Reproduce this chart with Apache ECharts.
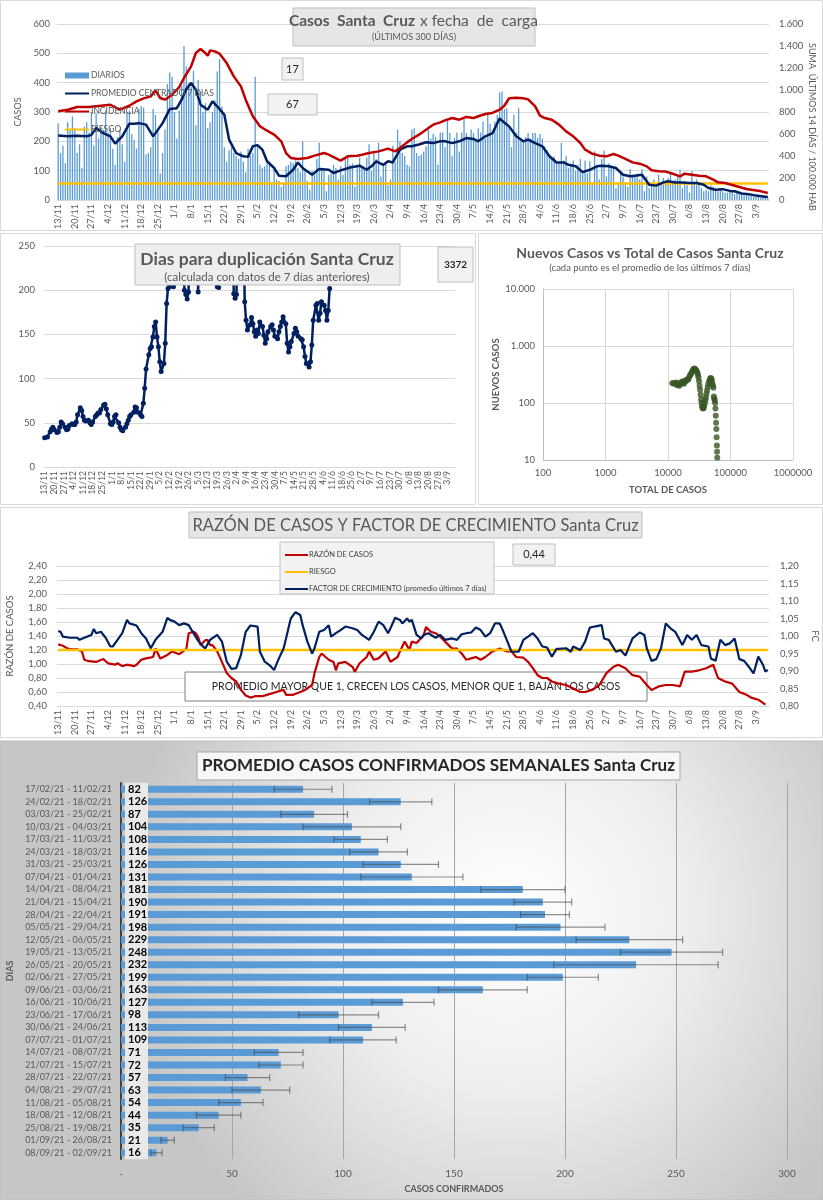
<!DOCTYPE html>
<html><head><meta charset="utf-8">
<script src="https://cdn.jsdelivr.net/npm/echarts/dist/echarts.min.js"></script>
<style>html,body{margin:0;padding:0;background:#fff}#c{width:823px;height:1200px}</style>
</head><body><div id="c"></div>
<script>
// ---------- DATA ----------
// x-axis categories: 300 days starting 13/11/2020
const START_DATE = [2020, 10, 13];
const N_DAYS = 300;
const DATES = [];
for (let i = 0; i < N_DAYS; i++) { const d = new Date(START_DATE[0], START_DATE[1], START_DATE[2] + i); DATES.push(d.getDate() + '/' + (d.getMonth() + 1)); }

const DIARIOS = [
262,160,185,125,265,240,285, 245,160,190,110,250,265,230, 300,185,295,210,250,240,305, 230,245,175,120,215,240,190,
130,300,305,225,205,175,310, 320,315,155,160,180,310,290, 240,90,160,240,395,435,420, 300,210,305,390,525,455,400,
385,440,255,410,370,300,330, 245,265,300,340,438,480,320, 180,130,170,180,160,150,140, 165,130,95,175,150,160,420,
185,120,110,115,125,120,60, 105,70,65,45,60,115,120, 130,125,135,110,95,200,105, 65,35,100,85,140,195,110,
100,30,85,90,120,110,70, 115,85,140,150,120,125,45, 120,145,110,110,145,190,100, 165,140,195,80,120,125,50,
70,185,130,240,200,160,150, 120,115,240,245,160,150,155, 165,183,240,210,225,215,120, 230,230,180,270,228,150,212,
230,165,230,275,228,210,240, 228,200,245,230,268,210,300, 260,230,268,290,367,370,310, 313,250,180,291,230,313,210,
200,215,228,210,228,228,212, 225,210,183,170,155,140,148, 130,125,194,135,150,110,120, 135,100,120,140,95,135,90,
132,60,166,120,70,140,169, 80,125,110,115,40,60,95, 80,60,45,106,80,85,90, 70,105,30,80,40,55,70,
45,86,60,75,55,75,90, 60,70,85,103,40,65,50, 25,98,60,70,60,40,30, 35,30,50,45,35,30,40,
30,25,25,35,30,20,25, 20,20,15,20,15,15,12, 12,10,8,12,10,8];

// [dayIndex, value]
const PROMEDIO = [[0,220],[4,217],[8,219],[12,217],[14,222],[16,245],[19,228],[22,217],[24,192],[27,217],[30,260],[32,260],[34,262],[37,257],[40,217],[41,228],[44,262],[47,310],[50,313],[52,342],[54,378],[56,399],[58,376],[60,325],[63,308],[65,336],[67,319],[70,291],[72,206],[75,160],[78,149],[80,147],[82,183],[84,187],[86,172],[88,132],[91,109],[93,83],[96,81],[99,103],[101,128],[103,109],[107,86],[110,106],[114,103],[116,92],[119,101],[123,111],[127,117],[130,103],[132,115],[134,132],[137,120],[139,132],[141,128],[144,172],[147,183],[149,183],[152,189],[155,197],[158,194],[161,200],[163,200],[166,194],[169,200],[172,211],[175,208],[177,200],[180,217],[183,228],[186,278],[187,270],[190,251],[193,217],[196,200],[198,206],[201,194],[204,183],[207,149],[210,128],[213,128],[215,120],[218,115],[221,95],[224,103],[227,115],[229,117],[232,115],[235,109],[238,86],[241,81],[243,83],[246,86],[249,52],[252,49],[255,60],[257,64],[260,60],[263,60],[266,58],[269,58],[272,52],[274,41],[277,35],[280,37],[283,31],[285,30],[288,22],[291,20],[294,15],[297,12],[299,10]];

const INCIDENCIA = [[0,806],[4,821],[8,845],[13,845],[18,857],[22,866],[26,821],[30,857],[33,897],[36,924],[39,942],[41,997],[43,927],[45,912],[48,957],[51,1027],[53,1109],[56,1215],[58,1336],[60,1372],[62,1336],[63,1312],[64,1360],[66,1351],[68,1330],[71,1245],[74,1124],[77,1033],[79,912],[82,761],[85,670],[88,630],[91,594],[94,533],[96,427],[98,382],[101,373],[105,382],[108,403],[112,427],[114,412],[119,358],[122,397],[126,403],[128,412],[131,427],[135,442],[139,467],[142,442],[144,473],[147,524],[149,555],[152,594],[155,639],[158,685],[161,706],[163,724],[166,745],[169,730],[172,755],[175,745],[177,761],[180,782],[183,791],[186,821],[188,857],[190,925],[193,930],[196,925],[198,915],[201,851],[203,767],[205,745],[208,730],[211,685],[214,624],[217,579],[220,518],[222,458],[225,421],[228,403],[231,397],[234,418],[236,403],[239,373],[242,342],[245,330],[248,306],[250,270],[253,261],[256,258],[259,239],[262,215],[264,239],[267,230],[270,221],[273,215],[276,185],[278,161],[281,155],[284,136],[287,118],[290,100],[292,94],[295,85],[299,64]];

const RIESGO_INCIDENCIA = 150;

const DUPLICACION = [[0,33],[2,34],[4,40],[5,43],[6,45],[7,42],[9,39],[10,40],[11,45],[12,51],[13,49],[15,45],[16,42],[17,43],[18,47],[20,49],[21,48],[22,48],[23,51],[24,59],[26,67],[27,64],[28,57],[29,53],[30,52],[32,53],[33,50],[34,48],[35,51],[37,57],[38,59],[39,61],[40,61],[41,65],[43,70],[44,71],[45,66],[46,59],[48,49],[49,48],[50,51],[51,57],[52,59],[54,50],[55,45],[56,42],[57,41],[59,45],[60,49],[61,53],[62,57],[63,59],[65,62],[66,68],[67,67],[68,62],[70,59],[71,57],[72,72],[73,89],[74,111],[76,127],[77,134],[78,136],[79,147],[80,159],[81,164],[82,147],[83,136],[84,119],[85,108],[87,117],[88,140],[89,185],[90,202],[91,204],[93,205],[94,204],[95,300],[101,300],[102,200],[103,195],[104,190],[105,198],[106,300],[111,300],[112,198],[113,300],[125,300],[126,204],[127,203],[128,300],[137,300],[138,196],[139,191],[140,195],[141,300],[145,300],[146,187],[147,166],[148,155],[150,161],[151,169],[152,162],[153,153],[154,148],[155,155],[156,151],[157,164],[159,159],[160,149],[161,140],[162,145],[163,153],[165,159],[166,161],[167,155],[168,148],[170,145],[171,153],[172,159],[173,164],[174,170],[176,162],[177,140],[178,130],[179,136],[180,142],[182,151],[183,157],[184,153],[185,148],[187,145],[188,144],[189,136],[190,125],[191,117],[193,113],[194,119],[195,138],[196,166],[198,183],[199,185],[200,166],[201,174],[202,187],[204,183],[205,177],[206,166],[207,177],[208,202]];

// [total de casos, nuevos casos (promedio 7 días)]
const NUEVOS_VS_TOTAL = [[11700,222],[12300,225],[12900,215],[13500,228],[14000,205],[14600,220],[15200,200],[15700,215],[16300,232],[16900,238],[17400,225],[18000,218],[18600,245],[19300,240],[19900,255],[20500,262],[21200,258],[21900,285],[22600,310],[23300,318],[24000,345],[24800,372],[25600,395],[26400,405],[27200,390],[28000,378],[28800,360],[29500,340],[30200,310],[30800,280],[31400,240],[32000,200],[32600,170],[33200,140],[33800,115],[34400,100],[35000,88],[35700,82],[36400,80],[37200,82],[38000,90],[38800,100],[39600,112],[40400,125],[41300,145],[42200,165],[43200,190],[44300,215],[45500,240],[46800,262],[48000,275],[49200,268],[50300,250],[51300,220],[52300,200],[53200,185],[54100,130],[55000,120],[55900,112],[56700,100],[57400,80],[58100,60],[58800,45],[59400,35],[60000,25],[60500,18],[61000,14],[61400,11]];

const RAZON = [[0,1.28],[2,1.26],[4,1.22],[6,1.21],[8,1.21],[10,1.18],[11,1.06],[13,1.04],[16,1.03],[19,1.07],[21,1.01],[24,0.99],[25,1.01],[27,0.97],[29,0.99],[32,0.97],[33,0.99],[35,1.06],[37,1.08],[40,1.10],[41,1.22],[43,1.08],[46,1.13],[48,1.18],[51,1.14],[53,1.19],[54,1.22],[55,1.44],[57,1.46],[58,1.44],[59,1.38],[60,1.27],[62,1.34],[63,1.34],[64,1.27],[65,1.27],[67,1.18],[69,1.03],[71,0.87],[73,0.80],[75,0.75],[77,0.63],[79,0.55],[81,0.52],[83,0.54],[86,0.54],[89,0.57],[92,0.60],[95,0.63],[96,0.56],[99,0.56],[102,0.60],[104,0.63],[107,0.70],[108,0.87],[110,1.10],[111,1.15],[114,1.06],[116,1.03],[117,0.91],[118,1.01],[121,1.03],[124,0.96],[125,0.89],[127,1.01],[130,1.10],[131,1.18],[133,1.06],[135,1.08],[138,1.18],[140,1.03],[143,1.10],[144,1.18],[146,1.32],[148,1.20],[149,1.32],[151,1.30],[154,1.41],[155,1.53],[157,1.46],[159,1.44],[161,1.39],[163,1.32],[166,1.22],[168,1.22],[170,1.15],[172,1.06],[174,1.08],[176,1.10],[178,1.06],[180,1.10],[183,1.18],[186,1.22],[189,1.18],[191,1.18],[193,1.10],[196,1.09],[198,1.03],[200,0.94],[202,0.84],[204,0.80],[206,0.80],[208,0.75],[211,0.72],[214,0.70],[217,0.65],[220,0.60],[222,0.60],[225,0.63],[228,0.70],[231,0.87],[234,0.96],[236,0.99],[239,0.94],[242,0.84],[245,0.82],[248,0.70],[250,0.63],[253,0.68],[256,0.70],[259,0.70],[262,0.68],[264,0.89],[267,0.89],[270,0.91],[273,0.94],[276,0.99],[278,0.80],[281,0.75],[284,0.72],[287,0.60],[290,0.56],[292,0.52],[295,0.49],[298,0.42]];

const FACTOR_CRECIMIENTO = [[0,1.014],[1,1.012],[2,0.998],[5,0.995],[8,0.995],[9,0.989],[11,0.995],[14,1.003],[15,1.020],[16,1.008],[18,1.012],[20,0.995],[22,0.970],[23,0.970],[25,0.989],[27,1.008],[29,1.046],[30,1.036],[33,1.030],[35,1.008],[37,0.993],[39,0.965],[41,0.989],[44,1.012],[46,1.052],[47,1.046],[49,1.041],[51,1.031],[53,1.036],[55,1.031],[57,1.008],[59,0.986],[61,0.970],[62,0.965],[64,0.989],[67,1.003],[69,0.984],[71,0.927],[73,0.906],[75,0.908],[77,0.946],[79,1.012],[81,1.030],[84,1.027],[85,0.955],[87,0.927],[89,0.917],[91,0.903],[93,0.936],[95,0.965],[96,0.993],[98,1.050],[100,1.068],[102,1.060],[103,1.031],[105,0.984],[107,0.950],[108,0.965],[110,1.012],[112,1.017],[114,1.031],[115,0.998],[117,1.008],[119,1.017],[121,1.027],[124,1.022],[126,1.017],[128,1.003],[131,0.989],[133,1.012],[135,1.041],[137,1.031],[139,1.008],[140,1.022],[142,1.052],[144,1.046],[145,1.036],[147,1.050],[148,1.041],[149,1.046],[151,1.003],[153,0.993],[154,1.003],[156,1.008],[159,0.995],[161,1.003],[163,0.989],[166,0.993],[168,0.989],[170,1.005],[172,1.008],[174,1.010],[176,1.024],[178,1.017],[180,0.998],[182,1.008],[184,1.036],[186,1.036],[187,1.022],[189,0.989],[191,0.955],[194,0.955],[196,0.989],[198,0.998],[200,1.008],[202,0.993],[204,0.970],[206,0.967],[208,0.941],[210,0.963],[211,0.963],[214,0.965],[216,0.955],[217,0.970],[220,0.960],[222,0.984],[224,1.024],[226,1.027],[229,1.031],[230,0.993],[232,0.989],[235,0.955],[237,0.960],[239,0.944],[242,0.993],[245,1.010],[247,1.003],[248,0.965],[250,0.929],[252,0.934],[254,0.965],[256,1.036],[258,1.022],[260,1.012],[263,0.974],[265,1.003],[267,0.989],[269,1.003],[271,0.974],[274,0.970],[275,0.936],[277,0.929],[279,0.989],[281,0.974],[283,0.979],[285,0.993],[287,0.934],[289,0.929],[291,0.912],[293,0.893],[295,0.941],[297,0.917],[298,0.898],[299,0.903]];

const RIESGO_RAZON = 1.2;

const SEMANAS = ["17/02/21 - 11/02/21","24/02/21 - 18/02/21","03/03/21 - 25/02/21","10/03/21 - 04/03/21","17/03/21 - 11/03/21","24/03/21 - 18/03/21","31/03/21 - 25/03/21","07/04/21 - 01/04/21","14/04/21 - 08/04/21","21/04/21 - 15/04/21","28/04/21 - 22/04/21","05/05/21 - 29/04/21","12/05/21 - 06/05/21","19/05/21 - 13/05/21","26/05/21 - 20/05/21","02/06/21 - 27/05/21","09/06/21 - 03/06/21","16/06/21 - 10/06/21","23/06/21 - 17/06/21","30/06/21 - 24/06/21","07/07/21 - 01/07/21","14/07/21 - 08/07/21","21/07/21 - 15/07/21","28/07/21 - 22/07/21","04/08/21 - 29/07/21","11/08/21 - 05/08/21","18/08/21 - 12/08/21","25/08/21 - 19/08/21","01/09/21 - 26/08/21","08/09/21 - 02/09/21"];
const PROMEDIO_SEMANAL = [82,126,87,104,108,116,126,131,181,190,191,198,229,248,232,199,163,127,98,113,109,71,72,57,63,54,44,35,21,16];
const ERROR_SEMANAL = [13,14,15,22,12,13,17,23,19,13,11,20,24,23,37,16,20,14,18,15,15,11,10,10,13,10,10,7,3,2.5];

// ---------- CHART ----------
const FF = 'Lato, "Open Sans", sans-serif';
const GRAY = '#595959';
const GRID = '#d9d9d9';
const thousands = v => String(Math.round(v)).replace(/\B(?=(\d{3})+(?!\d))/g, '.');
const comma2 = v => Number(v).toFixed(2).replace('.', ',');
const lbl = (o) => Object.assign({color: GRAY, fontFamily: FF}, o);

const G = [];
function rect(x, y, w, h, fill, stroke, z) { G.push({type: 'rect', shape: {x, y, width: w, height: h}, style: {fill, stroke, lineWidth: 1}, z, silent: true}); }
function txt(x, y, t, font, color, align, z, rot) {
  G.push({type: 'text', x, y, rotation: rot || 0, z: z || 101, silent: true,
    style: {text: t, font: font, fill: color, align: align || 'center', verticalAlign: 'middle', textAlign: align || 'center', textVerticalAlign: 'middle'}});
}
// panel frames
rect(0.5, 0.5, 822, 230, 'none', '#d9d9d9', 0);
rect(0.5, 233.5, 475, 271, 'none', '#d9d9d9', 0);
rect(478.5, 233.5, 344, 271, 'none', '#d9d9d9', 0);
rect(0.5, 507.5, 822, 230, 'none', '#d9d9d9', 0);
G.push({type: 'rect', shape: {x: 0, y: 741, width: 823, height: 459}, z: -10, silent: true,
  style: {stroke: '#bfbfbf', fill: new echarts.graphic.RadialGradient(0.62, 0.38, 0.85, [{offset: 0, color: '#ffffff'}, {offset: 0.45, color: '#eeeeee'}, {offset: 1, color: '#c6c6c6'}])}});
// panel 1 boxes
rect(293, 8, 242, 38, '#e7e6e6', '#bfbfbf', 100);
txt(415, 21, 'Casos  Santa  Cruz', 'bold 15.5px ' + FF, GRAY, 'right');
txt(420, 21, 'x fecha  de  carga', '15.5px ' + FF, GRAY, 'left');
txt(414, 37, '(ÚLTIMOS 300 DÍAS)', '9px ' + FF, GRAY);
rect(282, 58, 21, 22, '#f2f2f2', '#bfbfbf', 100); txt(292.5, 69, '17', '11px ' + FF, '#262626');
rect(268, 94, 49, 21, '#f2f2f2', '#bfbfbf', 100); txt(292.5, 104.5, '67', '11px ' + FF, '#262626');
txt(812, 127, 'SUMA  ÚLTIMOS 14 DÍAS / 100.000 HAB', '9px ' + FF, GRAY, 'center', 5, -Math.PI / 2);
// panel 2 boxes
rect(135, 244, 265, 41, '#eeeeee', '#bfbfbf', 100);
txt(267, 259, 'Dias para duplicación Santa Cruz', 'bold 17.5px ' + FF, GRAY);
txt(267, 277, '(calculada con datos de 7 días anteriores)', '11.5px ' + FF, GRAY);
rect(438, 247, 35, 35, '#f2f2f2', '#bfbfbf', 100); txt(455.5, 264.5, '3372', 'bold 10px ' + FF, '#262626');
// panel 2 right titles
txt(650, 253, 'Nuevos Casos vs Total de Casos Santa Cruz', 'bold 14px ' + FF, GRAY);
txt(650, 268, '(cada punto es el promedio de los últimos 7 días)', '9.5px ' + FF, GRAY);
// panel 3 boxes
rect(189, 512, 453, 26, '#e7e6e6', '#bfbfbf', 100);
txt(415.5, 525.5, 'RAZÓN DE CASOS Y FACTOR DE CRECIMIENTO Santa Cruz', '16.5px ' + FF, GRAY);
rect(280, 542, 214, 52, '#f2f2f2', '#bfbfbf', 3);
rect(513, 544, 42, 21, '#f2f2f2', '#bfbfbf', 100); txt(534, 554.5, '0,44', '11px ' + FF, '#262626');
rect(185, 672, 462, 29, '#ffffff', '#7f7f7f', 1);
txt(416, 687, 'PROMEDIO MAYOR QUE 1, CRECEN LOS CASOS, MENOR QUE 1, BAJAN LOS CASOS', '10.5px ' + FF, '#262626', 'center', 1);
// panel 4 title
rect(197, 752, 483, 28, '#f7f7f7', '#a6a6a6', 100);
txt(438.5, 766, 'PROMEDIO CASOS CONFIRMADOS SEMANALES Santa Cruz', 'bold 17px ' + FF, '#262626');

const dateAxis = (gi, fs) => ({type: 'category', gridIndex: gi, data: DATES, boundaryGap: true,
  axisLine: {lineStyle: {color: GRID}}, axisTick: {show: false}, splitLine: {show: false},
  axisLabel: lbl({interval: 6, rotate: 90, fontSize: fs, margin: 4})});

const errData = PROMEDIO_SEMANAL.map((v, i) => [i, v - ERROR_SEMANAL[i], v + ERROR_SEMANAL[i]]);
const noSym = {opacity: 0};

const option = {
  animation: false,
  backgroundColor: '#ffffff',
  textStyle: {fontFamily: FF},
  graphic: {elements: G},
  grid: [
    {left: 57, top: 24, width: 712, height: 176, outerBoundsMode: 'none'},
    {left: 44, top: 246, width: 411, height: 221, outerBoundsMode: 'none'},
    {left: 543, top: 289, width: 250, height: 171, outerBoundsMode: 'none'},
    {left: 57, top: 566, width: 712, height: 140, outerBoundsMode: 'none'},
    {left: 121, top: 783, width: 666, height: 376, outerBoundsMode: 'none'}
  ],
  legend: [
    {data: [{name: 'DIARIOS', icon: 'rect'}, {name: 'PROMEDIO CENTRADO 7 DIAS', itemStyle: noSym}, {name: 'INCIDENCIA', itemStyle: noSym}, {name: 'RIESGO', itemStyle: noSym}],
     left: 59, top: 66, orient: 'vertical', itemWidth: 24, itemHeight: 6, itemGap: 9, selectedMode: false,
     textStyle: {fontSize: 8.5, color: GRAY, fontFamily: FF, padding: [0, 0, 0, -3]}},
    {data: [{name: 'RAZÓN DE CASOS', itemStyle: noSym}, {name: 'RIESGO', itemStyle: noSym}, {name: 'FACTOR DE CRECIMIENTO (promedio últimos 7 días)', itemStyle: noSym}],
     left: 279, top: 546, orient: 'vertical', itemWidth: 23, itemHeight: 8, itemGap: 9, selectedMode: false,
     textStyle: {fontSize: 7.5, color: '#404040', fontFamily: FF, padding: [0, 0, 0, -4]}}
  ],
  xAxis: [
    dateAxis(0, 9),
    dateAxis(1, 8.5),
    {type: 'log', gridIndex: 2, min: 100, max: 1000000, logBase: 10,
     axisLine: {lineStyle: {color: '#bfbfbf'}}, axisTick: {show: false}, splitLine: {lineStyle: {color: GRID}},
     axisLabel: lbl({fontSize: 9.5, margin: 8, formatter: v => String(Math.round(v))}),
     name: 'TOTAL DE CASOS', nameLocation: 'middle', nameGap: 25, nameTextStyle: {fontWeight: 'bold', fontSize: 9.5, color: GRAY, fontFamily: FF}},
    dateAxis(3, 9),
    {type: 'value', gridIndex: 4, min: 0, max: 300, interval: 50,
     axisLine: {show: false}, axisTick: {show: false}, splitLine: {lineStyle: {color: '#a6a6a6'}},
     axisLabel: lbl({fontSize: 10, margin: 10, formatter: v => v === 0 ? '-' : String(v)}),
     name: 'CASOS CONFIRMADOS', nameLocation: 'middle', nameGap: 26, nameTextStyle: {fontWeight: 'bold', fontSize: 9, color: GRAY, fontFamily: FF}}
  ],
  yAxis: [
    {type: 'value', gridIndex: 0, min: 0, max: 600, interval: 100, axisLine: {show: false}, axisTick: {show: false},
     splitLine: {lineStyle: {color: GRID}}, axisLabel: lbl({fontSize: 9.5, margin: 7}),
     name: 'CASOS', nameLocation: 'middle', nameRotate: 90, nameGap: 30, nameTextStyle: {fontSize: 9, color: GRAY, fontFamily: FF}},
    {type: 'value', gridIndex: 0, position: 'right', min: 0, max: 1600, interval: 200, axisLine: {show: false}, axisTick: {show: false},
     splitLine: {show: false}, axisLabel: lbl({fontSize: 9.5, margin: 10, formatter: thousands})},
    {type: 'value', gridIndex: 1, min: 0, max: 250, interval: 50, axisLine: {show: false}, axisTick: {show: false},
     splitLine: {lineStyle: {color: GRID}}, axisLabel: lbl({fontSize: 9.5, margin: 9})},
    {type: 'log', gridIndex: 2, min: 10, max: 10000, logBase: 10, axisLine: {lineStyle: {color: '#bfbfbf'}}, axisTick: {show: false},
     splitLine: {lineStyle: {color: GRID}}, axisLabel: lbl({fontSize: 9.5, margin: 8, formatter: thousands}),
     name: 'NUEVOS CASOS', nameLocation: 'middle', nameRotate: 90, nameGap: 38, nameTextStyle: {fontWeight: 'bold', fontSize: 9.5, color: GRAY, fontFamily: FF}},
    {type: 'value', gridIndex: 3, min: 0.4, max: 2.4, interval: 0.2, axisLine: {show: false}, axisTick: {show: false},
     splitLine: {lineStyle: {color: GRID}}, axisLabel: lbl({fontSize: 9.5, margin: 10, formatter: comma2}),
     name: 'RAZÓN DE CASOS', nameLocation: 'middle', nameRotate: 90, nameGap: 42, nameTextStyle: {fontSize: 9.5, color: GRAY, fontFamily: FF}},
    {type: 'value', gridIndex: 3, position: 'right', min: 0.8, max: 1.2, interval: 0.05, axisLine: {show: false}, axisTick: {show: false},
     splitLine: {show: false}, axisLabel: lbl({fontSize: 9.5, margin: 11, formatter: comma2}),
     name: 'FC', nameLocation: 'middle', nameRotate: -90, nameGap: 38, nameTextStyle: {fontSize: 9.5, color: GRAY, fontFamily: FF}},
    {type: 'category', gridIndex: 4, data: SEMANAS, inverse: true,
     axisLine: {lineStyle: {color: '#404040', width: 2}}, axisTick: {show: false},
     axisLabel: lbl({fontSize: 9, margin: 9, interval: 0}),
     name: 'DIAS', nameLocation: 'middle', nameRotate: 90, nameGap: 88, nameTextStyle: {fontWeight: 'bold', fontSize: 9, color: GRAY, fontFamily: FF}}
  ],
  series: [
    {name: 'DIARIOS', type: 'bar', xAxisIndex: 0, yAxisIndex: 0, data: DIARIOS, barWidth: 1.3,
     itemStyle: {color: '#5b9bd5'}, z: 1},
    {name: 'RIESGO', type: 'line', xAxisIndex: 0, yAxisIndex: 1, data: [[0, RIESGO_INCIDENCIA], [N_DAYS - 1, RIESGO_INCIDENCIA]],
     symbol: 'none', lineStyle: {color: '#ffc000', width: 2.5}, itemStyle: {color: '#ffc000'}},
    {name: 'PROMEDIO CENTRADO 7 DIAS', type: 'line', xAxisIndex: 0, yAxisIndex: 0, data: PROMEDIO,
     symbol: 'none', lineStyle: {color: '#002060', width: 2.5}, itemStyle: {color: '#002060'}},
    {name: 'INCIDENCIA', type: 'line', xAxisIndex: 0, yAxisIndex: 1, data: INCIDENCIA,
     symbol: 'none', lineStyle: {color: '#c00000', width: 2.5}, itemStyle: {color: '#c00000'}},
    {name: 'DIAS DUPLICACION', type: 'line', xAxisIndex: 1, yAxisIndex: 2, data: DUPLICACION, clip: true,
     symbol: 'circle', symbolSize: 5, showAllSymbol: true, lineStyle: {color: '#002060', width: 2.5}, itemStyle: {color: '#002060'}},
    {name: 'NUEVOS VS TOTAL', type: 'scatter', xAxisIndex: 2, yAxisIndex: 3, data: NUEVOS_VS_TOTAL,
     symbolSize: 6, itemStyle: {color: '#375623'}},
    {name: 'RAZÓN DE CASOS', type: 'line', xAxisIndex: 3, yAxisIndex: 4, data: RAZON,
     symbol: 'none', lineStyle: {color: '#c00000', width: 2.2}, itemStyle: {color: '#c00000'}},
    {name: 'RIESGO', type: 'line', xAxisIndex: 3, yAxisIndex: 4, data: [[0, RIESGO_RAZON], [N_DAYS - 1, RIESGO_RAZON]],
     symbol: 'none', lineStyle: {color: '#ffc000', width: 2.5}, itemStyle: {color: '#ffc000'}},
    {name: 'FACTOR DE CRECIMIENTO (promedio últimos 7 días)', type: 'line', xAxisIndex: 3, yAxisIndex: 5, data: FACTOR_CRECIMIENTO,
     symbol: 'none', lineStyle: {color: '#002060', width: 2.2}, itemStyle: {color: '#002060'}},
    {name: 'PROMEDIO SEMANAL', type: 'bar', xAxisIndex: 4, yAxisIndex: 6, data: PROMEDIO_SEMANAL, barWidth: 7,
     itemStyle: {color: '#5b9bd5'},
     label: {show: true, position: 'insideLeft', distance: 4, formatter: '{c}', fontWeight: 'bold', fontSize: 11,
       color: '#000', fontFamily: FF, backgroundColor: '#e9e9e9', padding: [1, 3, 0, 3], width: 17, lineHeight: 12}},
    {name: 'ERROR', type: 'custom', xAxisIndex: 4, yAxisIndex: 6, data: errData, encode: {x: [1, 2], y: 0}, z: 5,
     renderItem: function (params, api) {
       const c = api.value(0), p1 = api.coord([api.value(1), c]), p2 = api.coord([api.value(2), c]);
       const st = {stroke: 'rgba(70,70,70,0.6)', lineWidth: 1.2};
       return {type: 'group', children: [
         {type: 'line', shape: {x1: p1[0], y1: p1[1], x2: p2[0], y2: p2[1]}, style: st},
         {type: 'line', shape: {x1: p1[0], y1: p1[1] - 3.5, x2: p1[0], y2: p1[1] + 3.5}, style: st},
         {type: 'line', shape: {x1: p2[0], y1: p2[1] - 3.5, x2: p2[0], y2: p2[1] + 3.5}, style: st}]};
     }}
  ]
};
const chart = echarts.init(document.getElementById('c'), null, {renderer: 'canvas'});
chart.setOption(option);
</script></body></html>
